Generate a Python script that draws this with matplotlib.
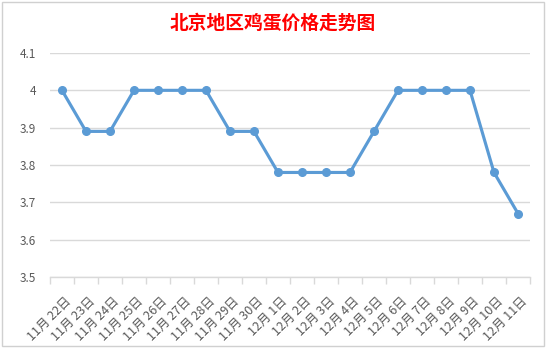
import numpy as np
import matplotlib.pyplot as plt
from matplotlib.patches import Rectangle

plt.rcParams['font.family'] = ['Noto Sans CJK SC', 'DejaVu Sans']

dates = ['11月 22日', '11月 23日', '11月 24日', '11月 25日', '11月 26日', '11月 27日',
         '11月 28日', '11月 29日', '11月 30日', '12月 1日', '12月 2日', '12月 3日',
         '12月 4日', '12月 5日', '12月 6日', '12月 7日', '12月 8日', '12月 9日',
         '12月 10日', '12月 11日']
prices = [4.0, 3.89, 3.89, 4.0, 4.0, 4.0, 4.0, 3.89, 3.89, 3.78, 3.78, 3.78,
          3.78, 3.89, 4.0, 4.0, 4.0, 4.0, 3.78, 3.67]
yticks = [3.5, 3.6, 3.7, 3.8, 3.9, 4.0, 4.1]
ytick_labels = ['3.5', '3.6', '3.7', '3.8', '3.9', '4', '4.1']

W, H = 547, 350
fig = plt.figure(figsize=(W / 100, H / 100), dpi=100)
fig.patch.set_facecolor('white')

# chart border like an excel chart object
fig.patches.append(Rectangle((2 / W, 1 - 346 / H), 542 / W, 344 / H,
                             transform=fig.transFigure, fill=False,
                             edgecolor='#D0D0D0', linewidth=1))

ax = fig.add_axes([50 / W, 1 - 277 / H, 480 / W, 224 / H])
x = np.arange(len(dates))
ax.plot(x, prices, color='#5B9BD5', linewidth=2.25, marker='o',
        markersize=5.5, zorder=3)

ax.set_xlim(-0.5, len(dates) - 0.5)
ax.set_ylim(3.5, 4.1)
ax.set_yticks(yticks)
ax.set_yticklabels(ytick_labels)
ax.yaxis.grid(True, color='#D9D9D9', linewidth=1)
ax.set_axisbelow(True)

ax.set_xticks(x + 0.1)
ax.set_xticklabels(dates, rotation=45, ha='right', rotation_mode='anchor')
ax.set_xticks(np.arange(len(dates) + 1) - 0.5, minor=True)
ax.tick_params(axis='x', which='major', length=0, pad=13,
               labelsize=9, labelcolor='#595959')
ax.tick_params(axis='x', which='minor', length=5, color='#D9D9D9', width=1)
ax.tick_params(axis='y', length=0, pad=10, labelsize=8.5, labelcolor='#595959')

for s in ['top', 'right', 'left']:
    ax.spines[s].set_visible(False)
ax.spines['bottom'].set_color('#D9D9D9')
ax.spines['bottom'].set_linewidth(1)

fig.text(273 / W, 1 - 23 / H, '北京地区鸡蛋价格走势图', color='#FF0000',
         fontsize=13.5, fontweight='bold', ha='center', va='center')

fig.savefig('out.png', dpi=100)
